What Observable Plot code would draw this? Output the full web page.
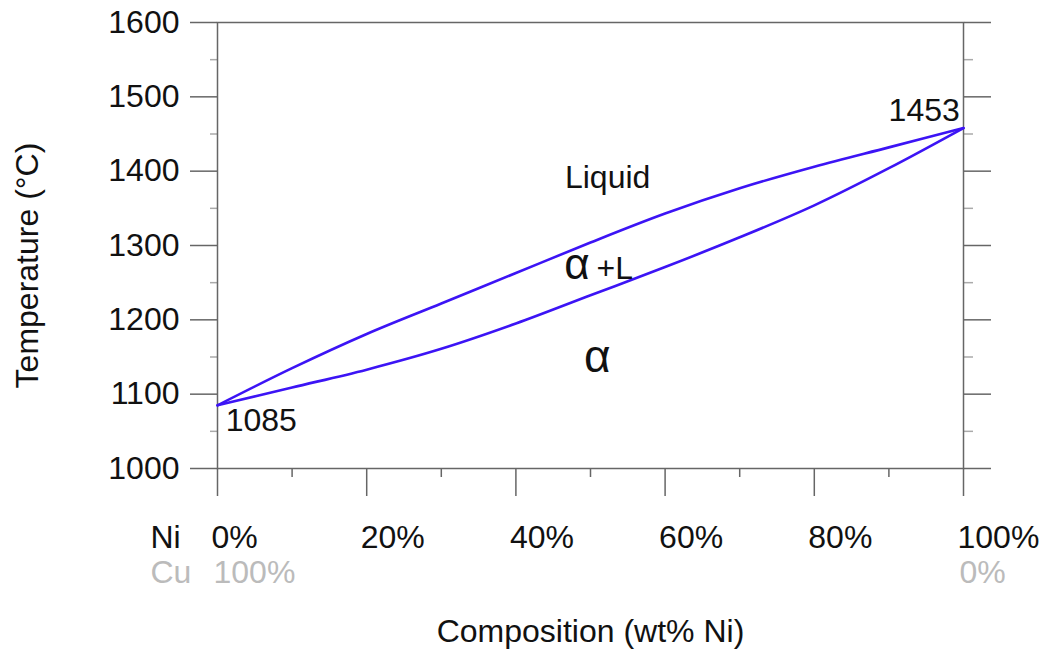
<!DOCTYPE html>
<html><head><meta charset="utf-8">
<script src="https://cdn.jsdelivr.net/npm/d3@7"></script>
<script src="https://cdn.jsdelivr.net/npm/@observablehq/plot@0.6"></script>
<style>body{margin:0;background:#fff} svg{overflow:visible}</style>
</head><body><div id="chart"></div>
<script>
// composition, wt% Ni
const composition = [0, 10, 20, 30, 40, 50, 60, 70, 80, 90, 100];
// liquidus (upper) and solidus (lower) temperatures, °C
const liquidus = [1085, 1135, 1181, 1222, 1263, 1304, 1343, 1377, 1406, 1432, 1458];
const solidus  = [1085, 1109, 1133, 1161, 1195, 1233, 1271, 1311, 1354, 1404, 1458];

const tempTicks = [1000, 1100, 1200, 1300, 1400, 1500, 1600];
const tempMinor = [1050, 1150, 1250, 1350, 1450, 1550];
const niTicks = [0, 20, 40, 60, 80, 100];
const niMinor = [10, 30, 50, 70, 90];
const cuTicks = [0, 100];
const cuTickLabels = ["100%", "0%"];

const phaseLabels = [
  {ni: 52.3, t: 1378, text: "Liquid", size: 32, anchor: "middle"},
  {ni: 48.2, t: 1255, text: "α", size: 44, anchor: "middle"},
  {ni: 50.8, t: 1255, text: "+L", size: 32, anchor: "start"},
  {ni: 50.9, t: 1130, text: "α", size: 46, anchor: "middle"}
];
const pointLabels = [
  {ni: 1.1, t: 1051, text: "1085", anchor: "start"},
  {ni: 99.5, t: 1467, text: "1453", anchor: "end"}
];

const liqData = composition.map((c, i) => ({c, t: liquidus[i]}));
const solData = composition.map((c, i) => ({c, t: solidus[i]}));

const blue = "#3c14f5";
const ink = "#111";
const fs = 32;

const chart = Plot.plot({
  width: 1047,
  height: 654,
  marginLeft: 217,
  marginRight: 84,
  marginTop: 22,
  marginBottom: 186,
  style: {fontFamily: "Liberation Sans, Arial, sans-serif", fontSize: fs + "px", color: ink, background: "#fff"},
  x: {domain: [0, 100], axis: null},
  y: {domain: [1000, 1600], axis: null},
  marks: [
    // left axis
    Plot.axisY(tempTicks, {anchor: "left", tickSize: 27, tickPadding: 11, tickFormat: d => String(d), stroke: "#666", strokeWidth: 1.5, label: null, fontSize: fs, fill: ink}),
    Plot.axisY(tempMinor, {anchor: "left", tickSize: 7, tickFormat: () => "", stroke: "#aaa", strokeWidth: 1.5, label: null}),
    // right axis
    Plot.axisY(tempTicks, {anchor: "right", tickSize: 27, tickFormat: () => "", stroke: "#666", strokeWidth: 1.5, label: null}),
    Plot.axisY(tempMinor, {anchor: "right", tickSize: 9, tickFormat: () => "", stroke: "#aaa", strokeWidth: 1.5, label: null}),
    // bottom axis
    Plot.axisX(niTicks, {anchor: "bottom", tickSize: 28, tickFormat: () => "", stroke: "#666", strokeWidth: 1.5, label: null}),
    Plot.axisX(niMinor, {anchor: "bottom", tickSize: 9, tickFormat: () => "", stroke: "#666", strokeWidth: 1.5, label: null}),
    Plot.frame({stroke: "#666", strokeWidth: 1.5}),
    // Ni / Cu tick label rows
    Plot.text(niTicks, {x: d => d, text: d => d + "%", frameAnchor: "bottom", dy: 79, dx: -6, textAnchor: "start", lineAnchor: "bottom", fill: ink, fontSize: fs}),
    Plot.text(cuTicks, {x: d => d, text: (d, i) => cuTickLabels[i], frameAnchor: "bottom", dy: 114, dx: -4, textAnchor: "start", lineAnchor: "bottom", fill: "#bbb", fontSize: fs}),
    Plot.text(["Ni"], {frameAnchor: "bottom-left", dx: -67, dy: 79, textAnchor: "start", lineAnchor: "bottom", fill: ink, fontSize: fs}),
    Plot.text(["Cu"], {frameAnchor: "bottom-left", dx: -67, dy: 114, textAnchor: "start", lineAnchor: "bottom", fill: "#bbb", fontSize: fs}),
    Plot.text(["Composition (wt% Ni)"], {frameAnchor: "bottom", dy: 173, textAnchor: "middle", lineAnchor: "bottom", fill: ink, fontSize: fs}),
    Plot.text(["Temperature (°C)"], {frameAnchor: "left", dx: -180, dy: 20, rotate: -90, textAnchor: "middle", lineAnchor: "bottom", fill: ink, fontSize: fs}),
    // phase boundaries
    Plot.line(liqData, {x: "c", y: "t", curve: "monotone-x", stroke: blue, strokeWidth: 2.6}),
    Plot.line(solData, {x: "c", y: "t", curve: "monotone-x", stroke: blue, strokeWidth: 2.6}),
    // labels
    Plot.text(phaseLabels, {x: "ni", y: "t", text: "text", fontSize: d => d.size, textAnchor: "middle", lineAnchor: "bottom", fill: ink, filter: d => d.anchor === "middle"}),
    Plot.text(phaseLabels, {x: "ni", y: "t", text: "text", fontSize: fs, textAnchor: "start", lineAnchor: "bottom", fill: ink, filter: d => d.anchor === "start"}),
    Plot.text(pointLabels, {x: "ni", y: "t", text: "text", textAnchor: "start", lineAnchor: "bottom", fill: ink, fontSize: fs, filter: d => d.anchor === "start"}),
    Plot.text(pointLabels, {x: "ni", y: "t", text: "text", textAnchor: "end", lineAnchor: "bottom", fill: ink, fontSize: fs, filter: d => d.anchor === "end"})
  ]
});
document.getElementById("chart").appendChild(chart);
</script>
</body></html>
